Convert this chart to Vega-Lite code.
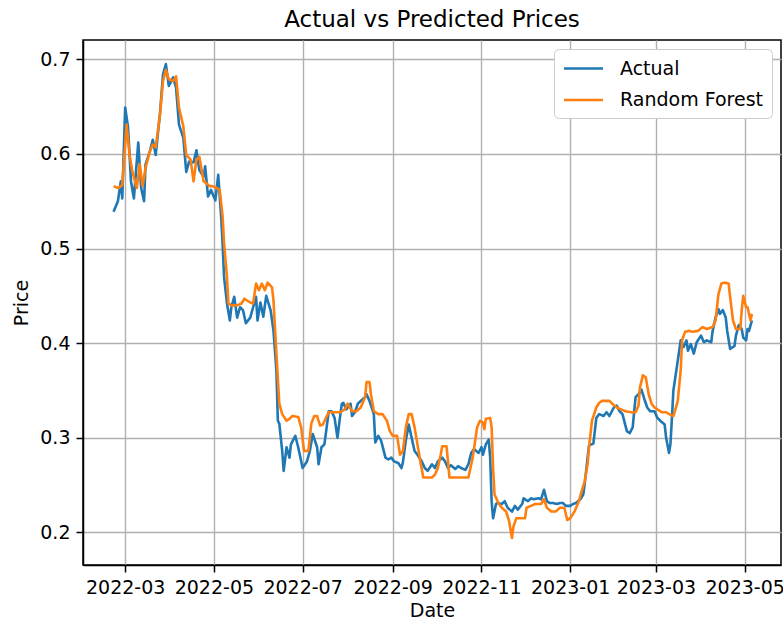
{
 "$schema": "https://vega.github.io/schema/vega-lite/v6.json",
 "width": 698, "height": 525,
 "autosize": {"type": "none"},
 "padding": {"left": 83, "top": 40, "right": 2, "bottom": 59},
 "background": "white",
 "title": {"text": "Actual vs Predicted Prices", "fontSize": 23, "fontWeight": "normal", "font": "DejaVu Sans", "color": "black", "offset": 8, "anchor": "middle"},
 "data": {"values": [
{"date":"2022-02-21","series":"Actual","price":0.539},
{"date":"2022-02-24","series":"Actual","price":0.550},
{"date":"2022-02-26","series":"Actual","price":0.571},
{"date":"2022-02-27","series":"Actual","price":0.553},
{"date":"2022-03-01","series":"Actual","price":0.649},
{"date":"2022-03-03","series":"Actual","price":0.628},
{"date":"2022-03-05","series":"Actual","price":0.571},
{"date":"2022-03-07","series":"Actual","price":0.553},
{"date":"2022-03-10","series":"Actual","price":0.612},
{"date":"2022-03-12","series":"Actual","price":0.564},
{"date":"2022-03-14","series":"Actual","price":0.550},
{"date":"2022-03-15","series":"Actual","price":0.589},
{"date":"2022-03-18","series":"Actual","price":0.603},
{"date":"2022-03-20","series":"Actual","price":0.615},
{"date":"2022-03-22","series":"Actual","price":0.599},
{"date":"2022-03-25","series":"Actual","price":0.644},
{"date":"2022-03-27","series":"Actual","price":0.684},
{"date":"2022-03-29","series":"Actual","price":0.695},
{"date":"2022-03-31","series":"Actual","price":0.672},
{"date":"2022-04-03","series":"Actual","price":0.681},
{"date":"2022-04-05","series":"Actual","price":0.670},
{"date":"2022-04-07","series":"Actual","price":0.631},
{"date":"2022-04-10","series":"Actual","price":0.617},
{"date":"2022-04-12","series":"Actual","price":0.581},
{"date":"2022-04-14","series":"Actual","price":0.592},
{"date":"2022-04-17","series":"Actual","price":0.591},
{"date":"2022-04-19","series":"Actual","price":0.604},
{"date":"2022-04-21","series":"Actual","price":0.583},
{"date":"2022-04-24","series":"Actual","price":0.576},
{"date":"2022-04-25","series":"Actual","price":0.587},
{"date":"2022-04-27","series":"Actual","price":0.555},
{"date":"2022-04-29","series":"Actual","price":0.562},
{"date":"2022-05-02","series":"Actual","price":0.551},
{"date":"2022-05-04","series":"Actual","price":0.578},
{"date":"2022-05-06","series":"Actual","price":0.534},
{"date":"2022-05-07","series":"Actual","price":0.505},
{"date":"2022-05-08","series":"Actual","price":0.470},
{"date":"2022-05-10","series":"Actual","price":0.442},
{"date":"2022-05-12","series":"Actual","price":0.424},
{"date":"2022-05-13","series":"Actual","price":0.438},
{"date":"2022-05-15","series":"Actual","price":0.449},
{"date":"2022-05-17","series":"Actual","price":0.427},
{"date":"2022-05-19","series":"Actual","price":0.438},
{"date":"2022-05-21","series":"Actual","price":0.435},
{"date":"2022-05-23","series":"Actual","price":0.421},
{"date":"2022-05-26","series":"Actual","price":0.427},
{"date":"2022-05-28","series":"Actual","price":0.438},
{"date":"2022-05-30","series":"Actual","price":0.449},
{"date":"2022-05-31","series":"Actual","price":0.424},
{"date":"2022-06-02","series":"Actual","price":0.443},
{"date":"2022-06-04","series":"Actual","price":0.428},
{"date":"2022-06-06","series":"Actual","price":0.450},
{"date":"2022-06-09","series":"Actual","price":0.435},
{"date":"2022-06-11","series":"Actual","price":0.413},
{"date":"2022-06-13","series":"Actual","price":0.371},
{"date":"2022-06-14","series":"Actual","price":0.318},
{"date":"2022-06-15","series":"Actual","price":0.315},
{"date":"2022-06-17","series":"Actual","price":0.286},
{"date":"2022-06-18","series":"Actual","price":0.265},
{"date":"2022-06-20","series":"Actual","price":0.290},
{"date":"2022-06-22","series":"Actual","price":0.279},
{"date":"2022-06-23","series":"Actual","price":0.293},
{"date":"2022-06-26","series":"Actual","price":0.302},
{"date":"2022-06-28","series":"Actual","price":0.290},
{"date":"2022-07-01","series":"Actual","price":0.268},
{"date":"2022-07-04","series":"Actual","price":0.275},
{"date":"2022-07-06","series":"Actual","price":0.286},
{"date":"2022-07-08","series":"Actual","price":0.304},
{"date":"2022-07-11","series":"Actual","price":0.290},
{"date":"2022-07-12","series":"Actual","price":0.272},
{"date":"2022-07-14","series":"Actual","price":0.290},
{"date":"2022-07-16","series":"Actual","price":0.293},
{"date":"2022-07-19","series":"Actual","price":0.328},
{"date":"2022-07-21","series":"Actual","price":0.328},
{"date":"2022-07-23","series":"Actual","price":0.321},
{"date":"2022-07-25","series":"Actual","price":0.300},
{"date":"2022-07-27","series":"Actual","price":0.325},
{"date":"2022-07-28","series":"Actual","price":0.336},
{"date":"2022-07-29","series":"Actual","price":0.337},
{"date":"2022-07-31","series":"Actual","price":0.330},
{"date":"2022-08-03","series":"Actual","price":0.336},
{"date":"2022-08-04","series":"Actual","price":0.323},
{"date":"2022-08-06","series":"Actual","price":0.327},
{"date":"2022-08-08","series":"Actual","price":0.336},
{"date":"2022-08-10","series":"Actual","price":0.339},
{"date":"2022-08-13","series":"Actual","price":0.343},
{"date":"2022-08-14","series":"Actual","price":0.346},
{"date":"2022-08-16","series":"Actual","price":0.339},
{"date":"2022-08-19","series":"Actual","price":0.325},
{"date":"2022-08-20","series":"Actual","price":0.295},
{"date":"2022-08-22","series":"Actual","price":0.302},
{"date":"2022-08-24","series":"Actual","price":0.297},
{"date":"2022-08-27","series":"Actual","price":0.279},
{"date":"2022-08-29","series":"Actual","price":0.277},
{"date":"2022-08-31","series":"Actual","price":0.279},
{"date":"2022-09-02","series":"Actual","price":0.275},
{"date":"2022-09-05","series":"Actual","price":0.273},
{"date":"2022-09-07","series":"Actual","price":0.268},
{"date":"2022-09-08","series":"Actual","price":0.274},
{"date":"2022-09-10","series":"Actual","price":0.297},
{"date":"2022-09-12","series":"Actual","price":0.314},
{"date":"2022-09-14","series":"Actual","price":0.300},
{"date":"2022-09-16","series":"Actual","price":0.286},
{"date":"2022-09-18","series":"Actual","price":0.282},
{"date":"2022-09-21","series":"Actual","price":0.275},
{"date":"2022-09-23","series":"Actual","price":0.268},
{"date":"2022-09-25","series":"Actual","price":0.265},
{"date":"2022-09-28","series":"Actual","price":0.272},
{"date":"2022-09-30","series":"Actual","price":0.268},
{"date":"2022-10-02","series":"Actual","price":0.275},
{"date":"2022-10-05","series":"Actual","price":0.279},
{"date":"2022-10-07","series":"Actual","price":0.275},
{"date":"2022-10-09","series":"Actual","price":0.268},
{"date":"2022-10-11","series":"Actual","price":0.271},
{"date":"2022-10-14","series":"Actual","price":0.267},
{"date":"2022-10-16","series":"Actual","price":0.270},
{"date":"2022-10-18","series":"Actual","price":0.268},
{"date":"2022-10-21","series":"Actual","price":0.266},
{"date":"2022-10-23","series":"Actual","price":0.272},
{"date":"2022-10-25","series":"Actual","price":0.284},
{"date":"2022-10-27","series":"Actual","price":0.288},
{"date":"2022-10-30","series":"Actual","price":0.284},
{"date":"2022-11-01","series":"Actual","price":0.290},
{"date":"2022-11-02","series":"Actual","price":0.282},
{"date":"2022-11-04","series":"Actual","price":0.293},
{"date":"2022-11-06","series":"Actual","price":0.298},
{"date":"2022-11-07","series":"Actual","price":0.279},
{"date":"2022-11-08","series":"Actual","price":0.233},
{"date":"2022-11-09","series":"Actual","price":0.215},
{"date":"2022-11-11","series":"Actual","price":0.230},
{"date":"2022-11-12","series":"Actual","price":0.231},
{"date":"2022-11-15","series":"Actual","price":0.230},
{"date":"2022-11-17","series":"Actual","price":0.233},
{"date":"2022-11-19","series":"Actual","price":0.226},
{"date":"2022-11-22","series":"Actual","price":0.222},
{"date":"2022-11-24","series":"Actual","price":0.228},
{"date":"2022-11-26","series":"Actual","price":0.224},
{"date":"2022-11-29","series":"Actual","price":0.230},
{"date":"2022-11-30","series":"Actual","price":0.236},
{"date":"2022-12-03","series":"Actual","price":0.233},
{"date":"2022-12-05","series":"Actual","price":0.236},
{"date":"2022-12-07","series":"Actual","price":0.235},
{"date":"2022-12-10","series":"Actual","price":0.236},
{"date":"2022-12-12","series":"Actual","price":0.235},
{"date":"2022-12-14","series":"Actual","price":0.245},
{"date":"2022-12-16","series":"Actual","price":0.233},
{"date":"2022-12-18","series":"Actual","price":0.231},
{"date":"2022-12-20","series":"Actual","price":0.231},
{"date":"2022-12-23","series":"Actual","price":0.230},
{"date":"2022-12-25","series":"Actual","price":0.231},
{"date":"2022-12-27","series":"Actual","price":0.231},
{"date":"2022-12-29","series":"Actual","price":0.228},
{"date":"2023-01-01","series":"Actual","price":0.228},
{"date":"2023-01-03","series":"Actual","price":0.230},
{"date":"2023-01-05","series":"Actual","price":0.231},
{"date":"2023-01-08","series":"Actual","price":0.235},
{"date":"2023-01-10","series":"Actual","price":0.240},
{"date":"2023-01-11","series":"Actual","price":0.251},
{"date":"2023-01-13","series":"Actual","price":0.279},
{"date":"2023-01-14","series":"Actual","price":0.292},
{"date":"2023-01-17","series":"Actual","price":0.294},
{"date":"2023-01-19","series":"Actual","price":0.321},
{"date":"2023-01-21","series":"Actual","price":0.325},
{"date":"2023-01-24","series":"Actual","price":0.323},
{"date":"2023-01-26","series":"Actual","price":0.327},
{"date":"2023-01-28","series":"Actual","price":0.323},
{"date":"2023-01-31","series":"Actual","price":0.332},
{"date":"2023-02-02","series":"Actual","price":0.334},
{"date":"2023-02-04","series":"Actual","price":0.328},
{"date":"2023-02-06","series":"Actual","price":0.325},
{"date":"2023-02-09","series":"Actual","price":0.307},
{"date":"2023-02-11","series":"Actual","price":0.305},
{"date":"2023-02-13","series":"Actual","price":0.311},
{"date":"2023-02-15","series":"Actual","price":0.343},
{"date":"2023-02-17","series":"Actual","price":0.346},
{"date":"2023-02-19","series":"Actual","price":0.351},
{"date":"2023-02-21","series":"Actual","price":0.341},
{"date":"2023-02-23","series":"Actual","price":0.332},
{"date":"2023-02-25","series":"Actual","price":0.328},
{"date":"2023-02-28","series":"Actual","price":0.328},
{"date":"2023-03-02","series":"Actual","price":0.321},
{"date":"2023-03-04","series":"Actual","price":0.318},
{"date":"2023-03-07","series":"Actual","price":0.314},
{"date":"2023-03-08","series":"Actual","price":0.300},
{"date":"2023-03-10","series":"Actual","price":0.284},
{"date":"2023-03-11","series":"Actual","price":0.294},
{"date":"2023-03-12","series":"Actual","price":0.321},
{"date":"2023-03-13","series":"Actual","price":0.350},
{"date":"2023-03-15","series":"Actual","price":0.371},
{"date":"2023-03-17","series":"Actual","price":0.392},
{"date":"2023-03-18","series":"Actual","price":0.403},
{"date":"2023-03-20","series":"Actual","price":0.396},
{"date":"2023-03-22","series":"Actual","price":0.403},
{"date":"2023-03-23","series":"Actual","price":0.392},
{"date":"2023-03-25","series":"Actual","price":0.399},
{"date":"2023-03-27","series":"Actual","price":0.389},
{"date":"2023-03-29","series":"Actual","price":0.401},
{"date":"2023-04-01","series":"Actual","price":0.408},
{"date":"2023-04-03","series":"Actual","price":0.401},
{"date":"2023-04-05","series":"Actual","price":0.403},
{"date":"2023-04-08","series":"Actual","price":0.401},
{"date":"2023-04-09","series":"Actual","price":0.413},
{"date":"2023-04-11","series":"Actual","price":0.427},
{"date":"2023-04-13","series":"Actual","price":0.436},
{"date":"2023-04-14","series":"Actual","price":0.431},
{"date":"2023-04-16","series":"Actual","price":0.435},
{"date":"2023-04-18","series":"Actual","price":0.427},
{"date":"2023-04-19","series":"Actual","price":0.413},
{"date":"2023-04-21","series":"Actual","price":0.394},
{"date":"2023-04-22","series":"Actual","price":0.395},
{"date":"2023-04-24","series":"Actual","price":0.397},
{"date":"2023-04-25","series":"Actual","price":0.408},
{"date":"2023-04-27","series":"Actual","price":0.419},
{"date":"2023-04-29","series":"Actual","price":0.415},
{"date":"2023-04-30","series":"Actual","price":0.406},
{"date":"2023-05-02","series":"Actual","price":0.403},
{"date":"2023-05-03","series":"Actual","price":0.415},
{"date":"2023-05-04","series":"Actual","price":0.413},
{"date":"2023-05-06","series":"Actual","price":0.424},
{"date":"2022-02-21","series":"Random Forest","price":0.566},
{"date":"2022-02-24","series":"Random Forest","price":0.564},
{"date":"2022-02-27","series":"Random Forest","price":0.567},
{"date":"2022-03-02","series":"Random Forest","price":0.631},
{"date":"2022-03-04","series":"Random Forest","price":0.599},
{"date":"2022-03-06","series":"Random Forest","price":0.581},
{"date":"2022-03-09","series":"Random Forest","price":0.564},
{"date":"2022-03-11","series":"Random Forest","price":0.589},
{"date":"2022-03-13","series":"Random Forest","price":0.566},
{"date":"2022-03-15","series":"Random Forest","price":0.585},
{"date":"2022-03-18","series":"Random Forest","price":0.603},
{"date":"2022-03-20","series":"Random Forest","price":0.610},
{"date":"2022-03-22","series":"Random Forest","price":0.607},
{"date":"2022-03-25","series":"Random Forest","price":0.642},
{"date":"2022-03-27","series":"Random Forest","price":0.677},
{"date":"2022-03-29","series":"Random Forest","price":0.689},
{"date":"2022-03-31","series":"Random Forest","price":0.679},
{"date":"2022-04-03","series":"Random Forest","price":0.677},
{"date":"2022-04-05","series":"Random Forest","price":0.682},
{"date":"2022-04-07","series":"Random Forest","price":0.649},
{"date":"2022-04-10","series":"Random Forest","price":0.629},
{"date":"2022-04-12","series":"Random Forest","price":0.599},
{"date":"2022-04-15","series":"Random Forest","price":0.594},
{"date":"2022-04-17","series":"Random Forest","price":0.571},
{"date":"2022-04-19","series":"Random Forest","price":0.594},
{"date":"2022-04-21","series":"Random Forest","price":0.597},
{"date":"2022-04-24","series":"Random Forest","price":0.571},
{"date":"2022-04-26","series":"Random Forest","price":0.569},
{"date":"2022-04-28","series":"Random Forest","price":0.566},
{"date":"2022-04-30","series":"Random Forest","price":0.566},
{"date":"2022-05-03","series":"Random Forest","price":0.564},
{"date":"2022-05-05","series":"Random Forest","price":0.562},
{"date":"2022-05-07","series":"Random Forest","price":0.534},
{"date":"2022-05-08","series":"Random Forest","price":0.506},
{"date":"2022-05-10","series":"Random Forest","price":0.470},
{"date":"2022-05-11","series":"Random Forest","price":0.442},
{"date":"2022-05-13","series":"Random Forest","price":0.440},
{"date":"2022-05-17","series":"Random Forest","price":0.440},
{"date":"2022-05-20","series":"Random Forest","price":0.442},
{"date":"2022-05-22","series":"Random Forest","price":0.447},
{"date":"2022-05-26","series":"Random Forest","price":0.443},
{"date":"2022-05-28","series":"Random Forest","price":0.442},
{"date":"2022-05-30","series":"Random Forest","price":0.463},
{"date":"2022-06-01","series":"Random Forest","price":0.456},
{"date":"2022-06-03","series":"Random Forest","price":0.463},
{"date":"2022-06-05","series":"Random Forest","price":0.456},
{"date":"2022-06-07","series":"Random Forest","price":0.464},
{"date":"2022-06-10","series":"Random Forest","price":0.459},
{"date":"2022-06-11","series":"Random Forest","price":0.445},
{"date":"2022-06-13","series":"Random Forest","price":0.389},
{"date":"2022-06-15","series":"Random Forest","price":0.336},
{"date":"2022-06-17","series":"Random Forest","price":0.325},
{"date":"2022-06-20","series":"Random Forest","price":0.318},
{"date":"2022-06-22","series":"Random Forest","price":0.320},
{"date":"2022-06-24","series":"Random Forest","price":0.323},
{"date":"2022-06-28","series":"Random Forest","price":0.322},
{"date":"2022-06-30","series":"Random Forest","price":0.311},
{"date":"2022-07-02","series":"Random Forest","price":0.286},
{"date":"2022-07-05","series":"Random Forest","price":0.286},
{"date":"2022-07-07","series":"Random Forest","price":0.315},
{"date":"2022-07-09","series":"Random Forest","price":0.323},
{"date":"2022-07-11","series":"Random Forest","price":0.323},
{"date":"2022-07-13","series":"Random Forest","price":0.313},
{"date":"2022-07-15","series":"Random Forest","price":0.314},
{"date":"2022-07-17","series":"Random Forest","price":0.321},
{"date":"2022-07-19","series":"Random Forest","price":0.327},
{"date":"2022-07-23","series":"Random Forest","price":0.327},
{"date":"2022-07-27","series":"Random Forest","price":0.327},
{"date":"2022-07-30","series":"Random Forest","price":0.330},
{"date":"2022-08-01","series":"Random Forest","price":0.336},
{"date":"2022-08-04","series":"Random Forest","price":0.328},
{"date":"2022-08-07","series":"Random Forest","price":0.328},
{"date":"2022-08-10","series":"Random Forest","price":0.332},
{"date":"2022-08-13","series":"Random Forest","price":0.343},
{"date":"2022-08-14","series":"Random Forest","price":0.359},
{"date":"2022-08-16","series":"Random Forest","price":0.359},
{"date":"2022-08-17","series":"Random Forest","price":0.346},
{"date":"2022-08-19","series":"Random Forest","price":0.328},
{"date":"2022-08-22","series":"Random Forest","price":0.325},
{"date":"2022-08-25","series":"Random Forest","price":0.325},
{"date":"2022-08-28","series":"Random Forest","price":0.318},
{"date":"2022-08-30","series":"Random Forest","price":0.307},
{"date":"2022-09-01","series":"Random Forest","price":0.302},
{"date":"2022-09-04","series":"Random Forest","price":0.302},
{"date":"2022-09-06","series":"Random Forest","price":0.282},
{"date":"2022-09-08","series":"Random Forest","price":0.286},
{"date":"2022-09-10","series":"Random Forest","price":0.311},
{"date":"2022-09-12","series":"Random Forest","price":0.325},
{"date":"2022-09-14","series":"Random Forest","price":0.325},
{"date":"2022-09-16","series":"Random Forest","price":0.311},
{"date":"2022-09-18","series":"Random Forest","price":0.293},
{"date":"2022-09-20","series":"Random Forest","price":0.275},
{"date":"2022-09-22","series":"Random Forest","price":0.258},
{"date":"2022-09-25","series":"Random Forest","price":0.258},
{"date":"2022-09-28","series":"Random Forest","price":0.258},
{"date":"2022-09-30","series":"Random Forest","price":0.261},
{"date":"2022-10-02","series":"Random Forest","price":0.268},
{"date":"2022-10-04","series":"Random Forest","price":0.282},
{"date":"2022-10-05","series":"Random Forest","price":0.291},
{"date":"2022-10-08","series":"Random Forest","price":0.291},
{"date":"2022-10-09","series":"Random Forest","price":0.275},
{"date":"2022-10-10","series":"Random Forest","price":0.258},
{"date":"2022-10-16","series":"Random Forest","price":0.258},
{"date":"2022-10-21","series":"Random Forest","price":0.258},
{"date":"2022-10-23","series":"Random Forest","price":0.258},
{"date":"2022-10-26","series":"Random Forest","price":0.279},
{"date":"2022-10-29","series":"Random Forest","price":0.311},
{"date":"2022-10-31","series":"Random Forest","price":0.318},
{"date":"2022-11-02","series":"Random Forest","price":0.316},
{"date":"2022-11-03","series":"Random Forest","price":0.309},
{"date":"2022-11-04","series":"Random Forest","price":0.320},
{"date":"2022-11-07","series":"Random Forest","price":0.321},
{"date":"2022-11-08","series":"Random Forest","price":0.311},
{"date":"2022-11-09","series":"Random Forest","price":0.268},
{"date":"2022-11-10","series":"Random Forest","price":0.240},
{"date":"2022-11-13","series":"Random Forest","price":0.230},
{"date":"2022-11-15","series":"Random Forest","price":0.226},
{"date":"2022-11-18","series":"Random Forest","price":0.222},
{"date":"2022-11-20","series":"Random Forest","price":0.212},
{"date":"2022-11-22","series":"Random Forest","price":0.194},
{"date":"2022-11-23","series":"Random Forest","price":0.206},
{"date":"2022-11-25","series":"Random Forest","price":0.215},
{"date":"2022-11-28","series":"Random Forest","price":0.215},
{"date":"2022-12-01","series":"Random Forest","price":0.215},
{"date":"2022-12-02","series":"Random Forest","price":0.226},
{"date":"2022-12-05","series":"Random Forest","price":0.228},
{"date":"2022-12-08","series":"Random Forest","price":0.230},
{"date":"2022-12-12","series":"Random Forest","price":0.230},
{"date":"2022-12-14","series":"Random Forest","price":0.235},
{"date":"2022-12-16","series":"Random Forest","price":0.226},
{"date":"2022-12-19","series":"Random Forest","price":0.222},
{"date":"2022-12-22","series":"Random Forest","price":0.222},
{"date":"2022-12-25","series":"Random Forest","price":0.226},
{"date":"2022-12-28","series":"Random Forest","price":0.226},
{"date":"2022-12-30","series":"Random Forest","price":0.213},
{"date":"2023-01-01","series":"Random Forest","price":0.215},
{"date":"2023-01-04","series":"Random Forest","price":0.222},
{"date":"2023-01-07","series":"Random Forest","price":0.233},
{"date":"2023-01-09","series":"Random Forest","price":0.244},
{"date":"2023-01-11","series":"Random Forest","price":0.254},
{"date":"2023-01-13","series":"Random Forest","price":0.272},
{"date":"2023-01-14","series":"Random Forest","price":0.290},
{"date":"2023-01-16","series":"Random Forest","price":0.318},
{"date":"2023-01-19","series":"Random Forest","price":0.332},
{"date":"2023-01-21","series":"Random Forest","price":0.337},
{"date":"2023-01-23","series":"Random Forest","price":0.339},
{"date":"2023-01-26","series":"Random Forest","price":0.339},
{"date":"2023-01-28","series":"Random Forest","price":0.339},
{"date":"2023-01-30","series":"Random Forest","price":0.336},
{"date":"2023-02-02","series":"Random Forest","price":0.332},
{"date":"2023-02-05","series":"Random Forest","price":0.330},
{"date":"2023-02-08","series":"Random Forest","price":0.328},
{"date":"2023-02-12","series":"Random Forest","price":0.327},
{"date":"2023-02-15","series":"Random Forest","price":0.327},
{"date":"2023-02-17","series":"Random Forest","price":0.334},
{"date":"2023-02-18","series":"Random Forest","price":0.353},
{"date":"2023-02-20","series":"Random Forest","price":0.366},
{"date":"2023-02-22","series":"Random Forest","price":0.364},
{"date":"2023-02-24","series":"Random Forest","price":0.346},
{"date":"2023-02-26","series":"Random Forest","price":0.336},
{"date":"2023-02-28","series":"Random Forest","price":0.332},
{"date":"2023-03-02","series":"Random Forest","price":0.330},
{"date":"2023-03-05","series":"Random Forest","price":0.327},
{"date":"2023-03-08","series":"Random Forest","price":0.327},
{"date":"2023-03-10","series":"Random Forest","price":0.325},
{"date":"2023-03-13","series":"Random Forest","price":0.323},
{"date":"2023-03-14","series":"Random Forest","price":0.328},
{"date":"2023-03-16","series":"Random Forest","price":0.339},
{"date":"2023-03-18","series":"Random Forest","price":0.371},
{"date":"2023-03-19","series":"Random Forest","price":0.403},
{"date":"2023-03-21","series":"Random Forest","price":0.412},
{"date":"2023-03-24","series":"Random Forest","price":0.413},
{"date":"2023-03-26","series":"Random Forest","price":0.412},
{"date":"2023-03-30","series":"Random Forest","price":0.413},
{"date":"2023-04-02","series":"Random Forest","price":0.417},
{"date":"2023-04-05","series":"Random Forest","price":0.415},
{"date":"2023-04-09","series":"Random Forest","price":0.417},
{"date":"2023-04-11","series":"Random Forest","price":0.424},
{"date":"2023-04-13","series":"Random Forest","price":0.452},
{"date":"2023-04-15","series":"Random Forest","price":0.463},
{"date":"2023-04-17","series":"Random Forest","price":0.464},
{"date":"2023-04-20","series":"Random Forest","price":0.463},
{"date":"2023-04-21","series":"Random Forest","price":0.449},
{"date":"2023-04-23","series":"Random Forest","price":0.424},
{"date":"2023-04-25","series":"Random Forest","price":0.415},
{"date":"2023-04-28","series":"Random Forest","price":0.415},
{"date":"2023-04-29","series":"Random Forest","price":0.435},
{"date":"2023-04-30","series":"Random Forest","price":0.450},
{"date":"2023-05-02","series":"Random Forest","price":0.438},
{"date":"2023-05-03","series":"Random Forest","price":0.438},
{"date":"2023-05-05","series":"Random Forest","price":0.424},
{"date":"2023-05-06","series":"Random Forest","price":0.431}
 ]},
 "mark": {"type": "line", "strokeWidth": 2.6, "strokeJoin": "round"},
 "encoding": {
  "x": {"field": "date", "type": "temporal",
   "scale": {"type": "utc", "domain": [{"year": 2022, "month": 1, "date": 31, "utc": true}, {"year": 2023, "month": 5, "date": 26, "utc": true}]},
   "axis": {"title": "Date", "format": "%Y-%m", "titlePadding": 4,
    "values": [
     {"year": 2022, "month": 3, "date": 1, "utc": true},
     {"year": 2022, "month": 5, "date": 1, "utc": true},
     {"year": 2022, "month": 7, "date": 1, "utc": true},
     {"year": 2022, "month": 9, "date": 1, "utc": true},
     {"year": 2022, "month": 11, "date": 1, "utc": true},
     {"year": 2023, "month": 1, "date": 1, "utc": true},
     {"year": 2023, "month": 3, "date": 1, "utc": true},
     {"year": 2023, "month": 5, "date": 1, "utc": true}
    ]}},
  "y": {"field": "price", "type": "quantitative",
   "scale": {"domain": [0.1655, 0.7205], "nice": false, "zero": false},
   "axis": {"title": "Price", "values": [0.2, 0.3, 0.4, 0.5, 0.6, 0.7], "format": ".1f", "titlePadding": 8}},
  "color": {"field": "series", "type": "nominal",
   "scale": {"domain": ["Actual", "Random Forest"], "range": ["#1f77b4", "#ff7f0e"]},
   "legend": {"title": null, "orient": "top-right", "offset": 9, "fillColor": "white", "strokeColor": "#cccccc", "cornerRadius": 5, "padding": 8, "symbolType": "M-2,0H2", "symbolStrokeWidth": 2.6, "symbolSize": 380, "symbolOffset": 10, "labelFontSize": 19, "labelFont": "DejaVu Sans", "labelColor": "black", "rowPadding": 9.5, "labelOffset": 25}}
 },
 "config": {
  "font": "DejaVu Sans",
  "view": {"stroke": "black", "strokeWidth": 1.5},
  "axis": {"domainColor": "black", "domainWidth": 1.5, "tickColor": "black", "tickWidth": 1.5, "gridColor": "#b0b0b0", "gridWidth": 1.4, "labelFont": "DejaVu Sans", "labelFontSize": 19, "labelColor": "black", "titleFont": "DejaVu Sans", "titleFontSize": 19, "titleFontWeight": "normal", "titleColor": "black", "tickSize": 7, "labelPadding": 6}
 }
}
